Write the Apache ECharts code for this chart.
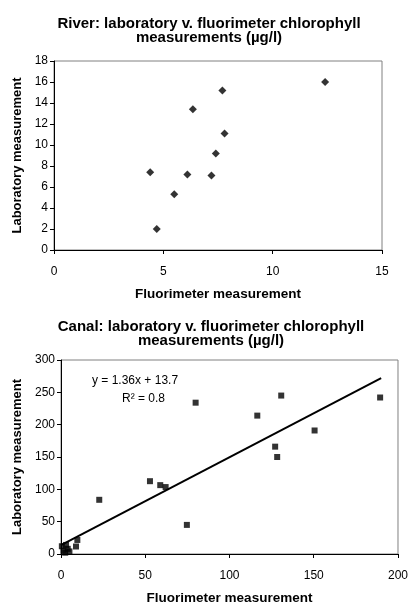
<!DOCTYPE html>
<html>
<head>
<meta charset="utf-8">
<script src="https://cdn.jsdelivr.net/npm/echarts@6/dist/echarts.min.js"></script>
<style>
html,body{margin:0;padding:0;background:#fff;}
#c{width:411px;height:606px;}
</style>
</head>
<body>
<div id="c"></div>
<script>
// River data
var riverX = [12.4, 7.7, 6.35, 7.8, 7.4, 4.4, 6.1, 7.2, 5.5, 4.7];
var riverY = [16.0, 15.2, 13.4, 11.1, 9.2, 7.4, 7.2, 7.1, 5.3, 2.0];
// Canal data
var canalX = [189.4, 130.7, 79.9, 116.5, 150.5, 127.1, 128.3, 52.8, 58.9, 62.1, 22.7, 74.7, 9.7, 8.9, 0.5, 1.5, 2.5, 4, 3, 5];
var canalY = [242, 245, 234, 214, 191, 166, 150, 112.6, 106.5, 103.5, 83.8, 45, 21.7, 11.6, 12, 5, 2, 8, 14, 4];
// Trendline (from the chart's stated equation)
var trendSlope = 1.36;
var trendIntercept = 13.7;
var trendXRange = [0, 190];
// Text
var titles = ["River: laboratory v. fluorimeter chlorophyll\nmeasurements (\u00b5g/l)",
              "Canal: laboratory v. fluorimeter chlorophyll\nmeasurements (\u00b5g/l)"];
var xName = "Fluorimeter measurement";
var yName = "Laboratory measurement";
var eqText = "y = 1.36x + 13.7";
var r2Text = "R\u00b2 = 0.8";

function zip(a, b) { return a.map(function (v, i) { return [v, b[i]]; }); }
var trendData = trendXRange.map(function (x) { return [x, trendSlope * x + trendIntercept]; });

var FONT = '"Liberation Sans", Arial, sans-serif';
var chart = echarts.init(document.getElementById('c'), null, {renderer: 'canvas'});

function xAxis(gi, min, max, interval, gap, margin) {
  return {
    gridIndex: gi, type: 'value', min: min, max: max, interval: interval,
    name: xName, nameLocation: 'middle', nameGap: gap,
    nameTextStyle: {fontFamily: FONT, fontSize: 13.5, fontWeight: 'bold', color: '#000'},
    axisLine: {show: true, lineStyle: {color: '#000', width: 1}},
    axisTick: {show: true, length: 4, lineStyle: {color: '#000'}},
    axisLabel: {fontFamily: FONT, fontSize: 12, color: '#000', margin: margin},
    splitLine: {show: false}
  };
}
function yAxis(gi, min, max, interval, gap) {
  return {
    gridIndex: gi, type: 'value', min: min, max: max, interval: interval,
    name: yName, nameLocation: 'middle', nameGap: gap,
    nameTextStyle: {fontFamily: FONT, fontSize: 13, fontWeight: 'bold', color: '#000'},
    axisLine: {show: true, lineStyle: {color: '#000', width: 1}},
    axisTick: {show: true, length: 4, lineStyle: {color: '#000'}},
    axisLabel: {fontFamily: FONT, fontSize: 12, color: '#000', margin: 6},
    splitLine: {show: false}
  };
}

chart.setOption({
  animation: false,
  backgroundColor: '#fff',
  title: [
    {text: titles[0], left: 209, top: 17, textAlign: 'center', padding: 0,
     textStyle: {fontFamily: FONT, fontSize: 15, fontWeight: 'bold', color: '#000', lineHeight: 14}},
    {text: titles[1], left: 211, top: 320, textAlign: 'center', padding: 0,
     textStyle: {fontFamily: FONT, fontSize: 15, fontWeight: 'bold', color: '#000', lineHeight: 14}}
  ],
  grid: [
    {left: 54, top: 61, width: 328, height: 189, show: true, borderColor: '#808080', borderWidth: 1, backgroundColor: '#fff'},
    {left: 61, top: 360, width: 337, height: 197, show: true, borderColor: '#808080', borderWidth: 1, backgroundColor: '#fff'}
  ],
  xAxis: [xAxis(0, 0, 15, 5, 37, 16), xAxis(1, 0, 200, 50, 37, 16)],
  yAxis: [yAxis(0, 0, 18, 2, 30), yAxis(1, 0, 300, 50, 36)],
  graphic: [
    {type: 'text', left: 92, top: 375, style: {text: eqText, font: '12px ' + FONT, fill: '#000'}},
    {type: 'text', left: 122, top: 393, style: {text: r2Text, font: '12px ' + FONT, fill: '#000'}}
  ],
  series: [
    {type: 'scatter', xAxisIndex: 0, yAxisIndex: 0, data: zip(riverX, riverY),
     symbol: 'diamond', symbolSize: 8, itemStyle: {color: '#000'}},
    {type: 'line', xAxisIndex: 1, yAxisIndex: 1, data: trendData, showSymbol: false,
     lineStyle: {color: '#000', width: 2}},
    {type: 'scatter', xAxisIndex: 1, yAxisIndex: 1, data: zip(canalX, canalY),
     symbol: 'rect', symbolSize: 6, itemStyle: {color: '#000'}}
  ]
});
</script>
</body>
</html>
